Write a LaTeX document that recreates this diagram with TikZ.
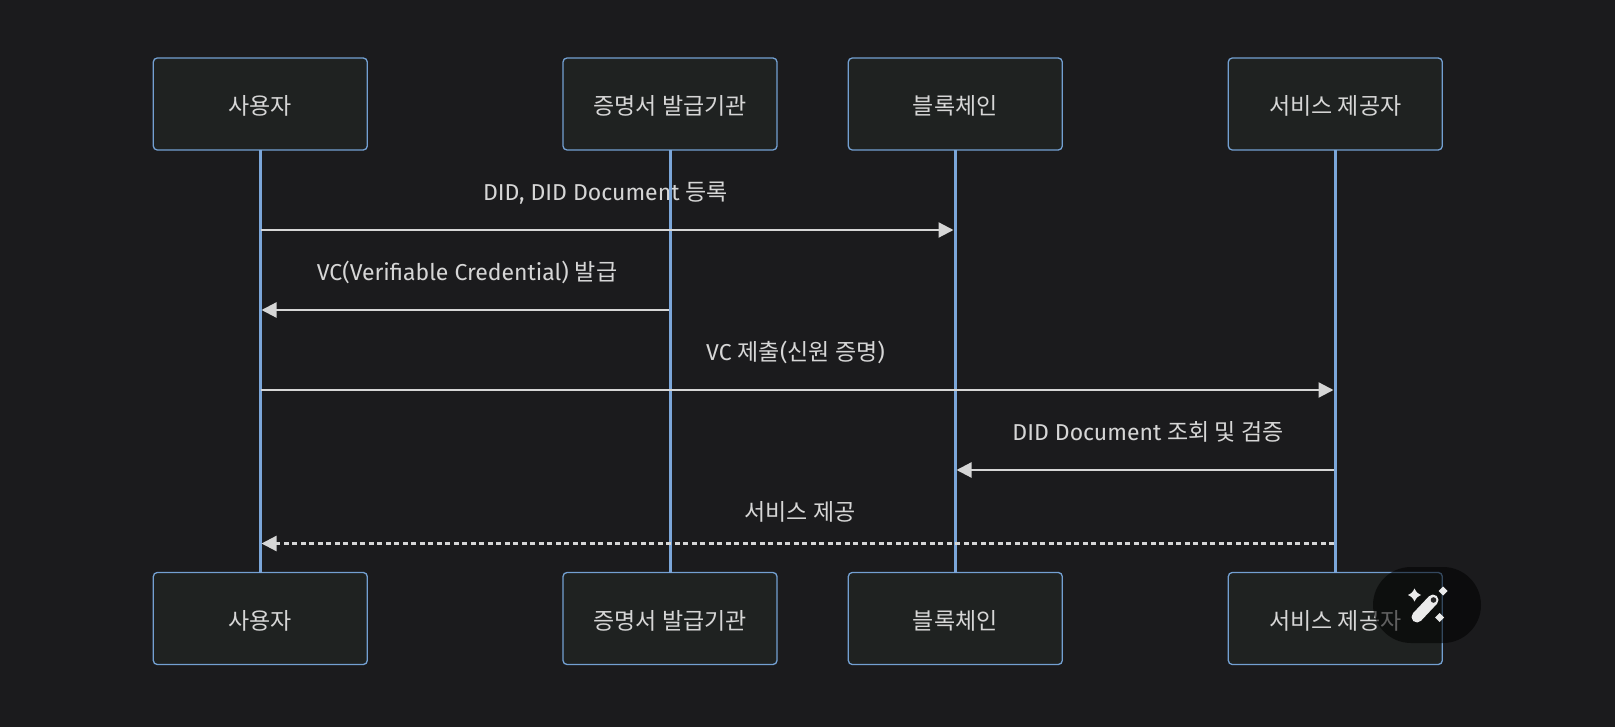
\documentclass[tikz,border=0pt]{standalone}
\usepackage{fontspec}
\usetikzlibrary{arrows.meta,shapes.geometric}
\setmainfont{Fira Sans}
\newfontfamily\krf{Noto Sans CJK KR}
\newcommand{\kr}[1]{{\krf #1}}
\newcommand{\boxtxt}[1]{\raisebox{-10.5pt}[8pt][8pt]{\krf #1}}
\definecolor{bgc}{RGB}{27,27,29}
\definecolor{boxf}{RGB}{31,34,33}
\definecolor{boxs}{RGB}{115,160,210}
\definecolor{lifec}{RGB}{123,166,217}
\definecolor{txt}{RGB}{214,214,214}
\tikzset{
  actorbox/.style={draw=boxs,fill=boxf,line width=1.3pt,rounded corners=4pt,minimum width=214pt,minimum height=92pt,inner sep=0pt,text=txt,font=\fontsize{23}{27}\selectfont,outer sep=0pt},
  lifeline/.style={draw=lifec,line width=3pt},
  msg/.style={draw=txt,line width=2.2pt,-{Triangle[length=15pt,width=15pt]},shorten >=1.5pt,shorten <=1pt},
  dashmsg/.style={msg,line width=2.2pt,dash pattern=on 4.6pt off 3.9pt},
  msglabel/.style={anchor=base,text=txt,inner sep=0pt,font=\fontsize{23}{27}\selectfont},
  spark/.style={fill=white!92!black,draw=none},
}
\newcommand{\sparkle}[3]{\fill[spark] (#1-#3,#2) .. controls (#1-#3*0.35,#2-#3*0.35) .. (#1,#2-#3) .. controls (#1+#3*0.35,#2-#3*0.35) .. (#1+#3,#2) .. controls (#1+#3*0.35,#2+#3*0.35) .. (#1,#2+#3) .. controls (#1-#3*0.35,#2+#3*0.35) .. cycle;}
\begin{document}
\begin{tikzpicture}[x=1pt,y=-1pt]
\path[use as bounding box,fill=bgc] (0,0) rectangle (1615,727);
% labels lie under the lifelines
\node[msglabel] (m1) at (605.5,200.7) {DID, DID Document \kr{등록}};
\node[msglabel] (m2) at (467,280.5) {VC(Verifiable Credential) \kr{발급}};
\node[msglabel] (m3) at (795.5,360.7) {VC \kr{제출}(\kr{신원 증명})};
\node[msglabel] (m4) at (1148,440.7) {DID Document \kr{조회 및 검증}};
\node[msglabel] (m5) at (800,520) {\kr{서비스 제공}};
% actors
\node[actorbox] (a) at (260.3,104) {\boxtxt{사용자}};
\node[actorbox] (b) at (670,104) {\boxtxt{증명서 발급기관}};
\node[actorbox] (c) at (955.3,104) {\boxtxt{블록체인}};
\node[actorbox] (d) at (1335.3,104) {\boxtxt{서비스 제공자}};
\node[actorbox] (a2) at (260.3,618.5) {\boxtxt{사용자}};
\node[actorbox] (b2) at (670,618.5) {\boxtxt{증명서 발급기관}};
\node[actorbox] (c2) at (955.3,618.5) {\boxtxt{블록체인}};
\node[actorbox] (d2) at (1335.3,618.5) {\boxtxt{서비스 제공자}};
% lifelines
\draw[lifeline] (a.south) -- (a2.north);
\draw[lifeline] (b.south) -- (b2.north);
\draw[lifeline] (c.south) -- (c2.north);
\draw[lifeline] (d.south) -- (d2.north);
% message end points on the lifelines
\coordinate (a1) at (260,230);
\coordinate (c1) at (955,230);
\coordinate (b3) at (669.5,310);
\coordinate (a3) at (260,310);
\coordinate (a4) at (260,390);
\coordinate (d4) at (1335,390);
\coordinate (d5) at (1335,470);
\coordinate (c5) at (955,470);
\coordinate (d6) at (1335,543.5);
\coordinate (a6) at (260,543.5);
\draw[msg] (a1) -- (c1);
\draw[msg] (b3) -- (a3);
\draw[msg] (a4) -- (d4);
\draw[msg] (d5) -- (c5);
\draw[dashmsg] (d6) -- (a6);
% floating button
\fill[black,fill opacity=0.55,rounded corners=38pt] (1373,567) rectangle (1481,643);
\draw[white!92!black,line width=11pt,line cap=round] (1417,617) -- (1433,600);
\fill[black!85] (1433.5,600) circle (2.8pt);
\sparkle{1414.5}{595}{6.5}
\sparkle{1443}{591}{4.5}
\sparkle{1439.5}{617.5}{4.5}
\end{tikzpicture}
\end{document}
